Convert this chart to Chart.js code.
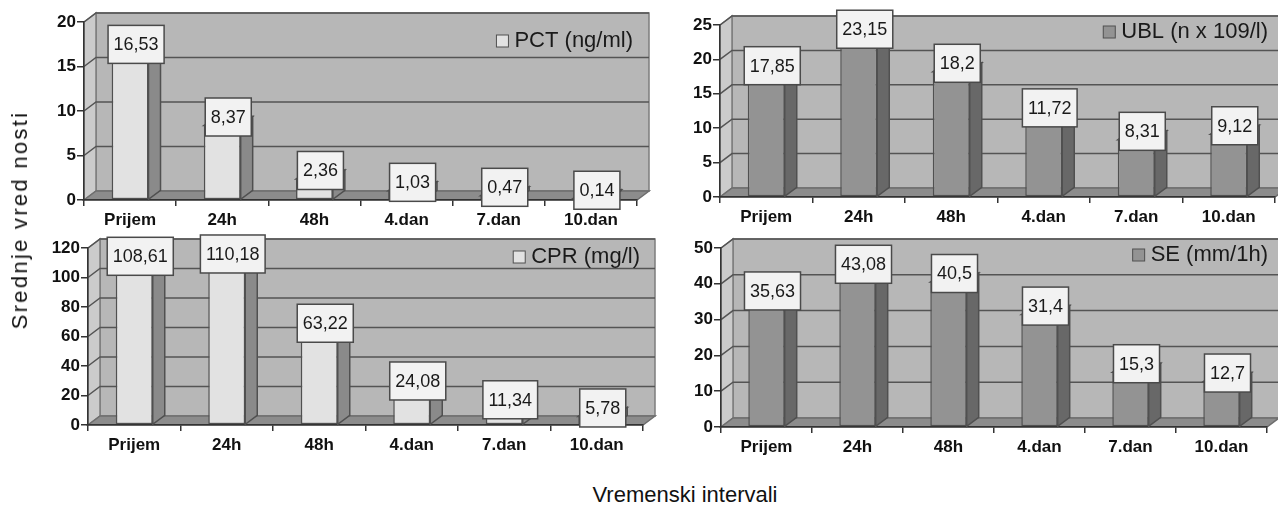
<!DOCTYPE html>
<html>
<head>
<meta charset="utf-8">
<script src="https://cdn.jsdelivr.net/npm/chart.js@4.4.1/dist/chart.umd.min.js"></script>
<style>
  html, body { margin: 0; padding: 0; background: #fff; }
  body { width: 1278px; height: 507px; position: relative; overflow: hidden;
         font-family: "Liberation Sans", Arial, sans-serif; }
  canvas { position: absolute; }
  .title-y { position: absolute; left: 20px; top: 220px; white-space: nowrap; color: #111;
             transform: translate(-50%, -50%) rotate(-90deg); font-size: 22px; letter-spacing: 2.3px; }
  .title-x { position: absolute; left: 685px; top: 495px; white-space: nowrap; color: #111;
             transform: translate(-50%, -50%); font-size: 22px; }
</style>
</head>
<body>
<canvas id="pctChart" width="660" height="235" style="left:0px;top:0px"></canvas>
<canvas id="ublChart" width="628" height="235" style="left:650px;top:0px"></canvas>
<canvas id="cprChart" width="665" height="235" style="left:0px;top:228px"></canvas>
<canvas id="seChart" width="623" height="235" style="left:655px;top:228px"></canvas>
<div class="title-y">Srednje vred nosti</div>
<div class="title-x">Vremenski intervali</div>
<script>
'use strict';

// categories and values
var categories = ['Prijem', '24h', '48h', '4.dan', '7.dan', '10.dan'];
var pctValues = [16.53, 8.37, 2.36, 1.03, 0.47, 0.14];
var ublValues = [17.85, 23.15, 18.2, 11.72, 8.31, 9.12];
var cprValues = [108.61, 110.18, 63.22, 24.08, 11.34, 5.78];
var seValues = [35.63, 43.08, 40.5, 31.4, 15.3, 12.7];

var seriesNames = ['PCT (ng/ml)', 'UBL (n x 109/l)', 'CPR (mg/l)', 'SE (mm/1h)'];
var axisMax = [20, 25, 120, 50];
var axisStep = [5, 5, 20, 10];

var FONT = '"Liberation Sans", Arial, sans-serif';
var EDGE = '#505050';

var lightBars = {front: '#e2e2e2', side: '#8a8a8a', top: '#f0f0f0'};
var darkBars = {front: '#939393', side: '#686868', top: '#b0b0b0'};

// layout of each panel: canvas box and wanted front-plane area (page pixels)
var panels = [
    {id: 'pctChart', values: pctValues, name: seriesNames[0], max: axisMax[0], step: axisStep[0],
     canvas: [0, 0, 660, 235], area: [84, 637, 22, 200], colors: lightBars, legendDy: 19, legendDx: -4},
    {id: 'ublChart', values: ublValues, name: seriesNames[1], max: axisMax[1], step: axisStep[1],
     canvas: [650, 0, 628, 235], area: [720, 1275, 25, 197], colors: darkBars, legendDy: 7, legendDx: -7},
    {id: 'cprChart', values: cprValues, name: seriesNames[2], max: axisMax[2], step: axisStep[2],
     canvas: [0, 228, 665, 235], area: [88, 643, 248, 425], colors: lightBars, legendDy: 9, legendDx: -3},
    {id: 'seChart', values: seValues, name: seriesNames[3], max: axisMax[3], step: axisStep[3],
     canvas: [655, 228, 623, 235], area: [721, 1267, 248, 427], colors: darkBars, legendDy: 7, legendDx: 1},
];

function fmt(v) {
    return String(v).replace('.', ',');
}

function poly(ctx, pts, fill, stroke) {
    ctx.beginPath();
    ctx.moveTo(pts[0][0], pts[0][1]);
    for (var i = 1; i < pts.length; i++) {
        ctx.lineTo(pts[i][0], pts[i][1]);
    }
    ctx.closePath();
    if (fill) {
        ctx.fillStyle = fill;
        ctx.fill();
    }
    if (stroke) {
        ctx.strokeStyle = stroke;
        ctx.stroke();
    }
}

// walls, floor and the depth of the bars
var depthPlugin = {
    id: 'depth3d',
    beforeDraw: function (chart, args, opts) {
        var a = chart.chartArea;
        var ctx = chart.ctx;
        var yScale = chart.scales.y;
        var dx = opts.dx, dy = opts.dy;
        var L = a.left, R = a.right, T = a.top, B = a.bottom;
        ctx.save();
        ctx.lineWidth = 1.5;
        // back wall
        poly(ctx, [[L + dx, T + dy], [R + dx, T + dy], [R + dx, B + dy], [L + dx, B + dy]], '#b7b7b7', '#7d7d7d');
        // left wall
        poly(ctx, [[L, B], [L, T], [L + dx, T + dy], [L + dx, B + dy]], '#cbcbcb', '#7d7d7d');
        // floor
        poly(ctx, [[L, B], [R, B], [R + dx, B + dy], [L + dx, B + dy]], '#8c8c8c', '#6e6e6e');
        // grid lines on the walls
        ctx.strokeStyle = '#545454';
        yScale.ticks.forEach(function (t) {
            if (t.value === 0) {
                return;
            }
            var py = yScale.getPixelForValue(t.value);
            ctx.beginPath();
            ctx.moveTo(L, py);
            ctx.lineTo(L + dx, py + dy);
            ctx.lineTo(R + dx, py + dy);
            ctx.stroke();
        });
        ctx.restore();
    },
    afterDatasetsDraw: function (chart, args, opts) {
        var a = chart.chartArea;
        var ctx = chart.ctx;
        var dx = opts.dx, dy = opts.dy;
        var meta = chart.getDatasetMeta(0);
        var values = chart.data.datasets[0].data;
        ctx.save();
        ctx.lineWidth = 1.5;

        meta.data.forEach(function (bar) {
            var p = bar.getProps(['x', 'y', 'base', 'width'], true);
            var l = p.x - p.width / 2, r = p.x + p.width / 2;
            poly(ctx, [[r, p.y], [r + dx, p.y + dy], [r + dx, p.base + dy], [r, p.base]], opts.side, EDGE);
            poly(ctx, [[l, p.y], [l + dx, p.y + dy], [r + dx, p.y + dy], [r, p.y]], opts.top, EDGE);
        });

        // legend inside the back wall
        ctx.font = '22px ' + FONT;
        ctx.textBaseline = 'middle';
        ctx.textAlign = 'right';
        var lx = a.right + opts.legendDx;
        var ly = a.top + opts.legendDy;
        var tw = ctx.measureText(opts.name).width;
        ctx.fillStyle = '#1a1a1a';
        ctx.fillText(opts.name, lx, ly);
        ctx.fillStyle = opts.front;
        ctx.fillRect(lx - tw - 18, ly - 6, 12, 12);
        ctx.strokeStyle = EDGE;
        ctx.lineWidth = 1;
        ctx.strokeRect(lx - tw - 18, ly - 6, 12, 12);

        // value boxes
        ctx.font = '18px ' + FONT;
        ctx.textAlign = 'center';
        ctx.lineWidth = 1.5;
        meta.data.forEach(function (bar, i) {
            var p = bar.getProps(['x', 'y'], true);
            var txt = fmt(values[i]);
            var w = ctx.measureText(txt).width + 11;
            var h = 38;
            var cx = p.x + dx / 2;
            var cy = p.y - 8.5;
            ctx.fillStyle = '#f2f2f2';
            ctx.fillRect(cx - w / 2, cy - h / 2, w, h);
            ctx.strokeStyle = '#4a4a4a';
            ctx.strokeRect(cx - w / 2, cy - h / 2, w, h);
            ctx.fillStyle = '#1a1a1a';
            ctx.fillText(txt, cx, cy + 1);
        });
        ctx.restore();
    },
};

panels.forEach(function (panel) {
    var c = panel.canvas, ar = panel.area;
    var yWidth = ar[0] - c[0];
    var xHeight = c[1] + c[3] - ar[3];

    var config = {
        type: 'bar',
        data: {
            labels: categories,
            datasets: [{
                data: panel.values,
                backgroundColor: panel.colors.front,
                borderColor: EDGE,
                borderWidth: 1.5,
                borderSkipped: false,
                barPercentage: 0.4,
                categoryPercentage: 1.0,
            }],
        },
        options: {
            responsive: false,
            animation: false,
            events: [],
            layout: {
                padding: {left: 0, bottom: 0, top: ar[2] - c[1], right: c[0] + c[2] - ar[1]},
            },
            plugins: {
                legend: {display: false},
                tooltip: {enabled: false},
                depth3d: {
                    dx: 12, dy: -9,
                    side: panel.colors.side,
                    top: panel.colors.top,
                    front: panel.colors.front,
                    name: panel.name,
                    legendDx: panel.legendDx,
                    legendDy: panel.legendDy,
                },
            },
            scales: {
                x: {
                    afterFit: function (scale) { scale.height = xHeight; },
                    grid: {display: true, drawOnChartArea: false, drawTicks: true, tickLength: 6,
                           color: '#333', lineWidth: 1.5},
                    border: {display: true, color: '#333', width: 1.5},
                    ticks: {color: '#111', padding: 4, font: {family: FONT, size: 17, weight: 'bold'}},
                },
                y: {
                    min: 0,
                    max: panel.max,
                    afterFit: function (scale) { scale.width = yWidth; },
                    grid: {display: true, drawOnChartArea: false, drawTicks: true, tickLength: 7,
                           color: '#333', lineWidth: 1.5},
                    border: {display: true, color: '#333', width: 1.5},
                    ticks: {stepSize: panel.step, color: '#111', padding: 1,
                            font: {family: FONT, size: 17, weight: 'bold'}},
                },
            },
        },
        plugins: [depthPlugin],
    };

    var ctx = document.getElementById(panel.id).getContext('2d');
    new Chart(ctx, config);
});
</script>
</body>
</html>
